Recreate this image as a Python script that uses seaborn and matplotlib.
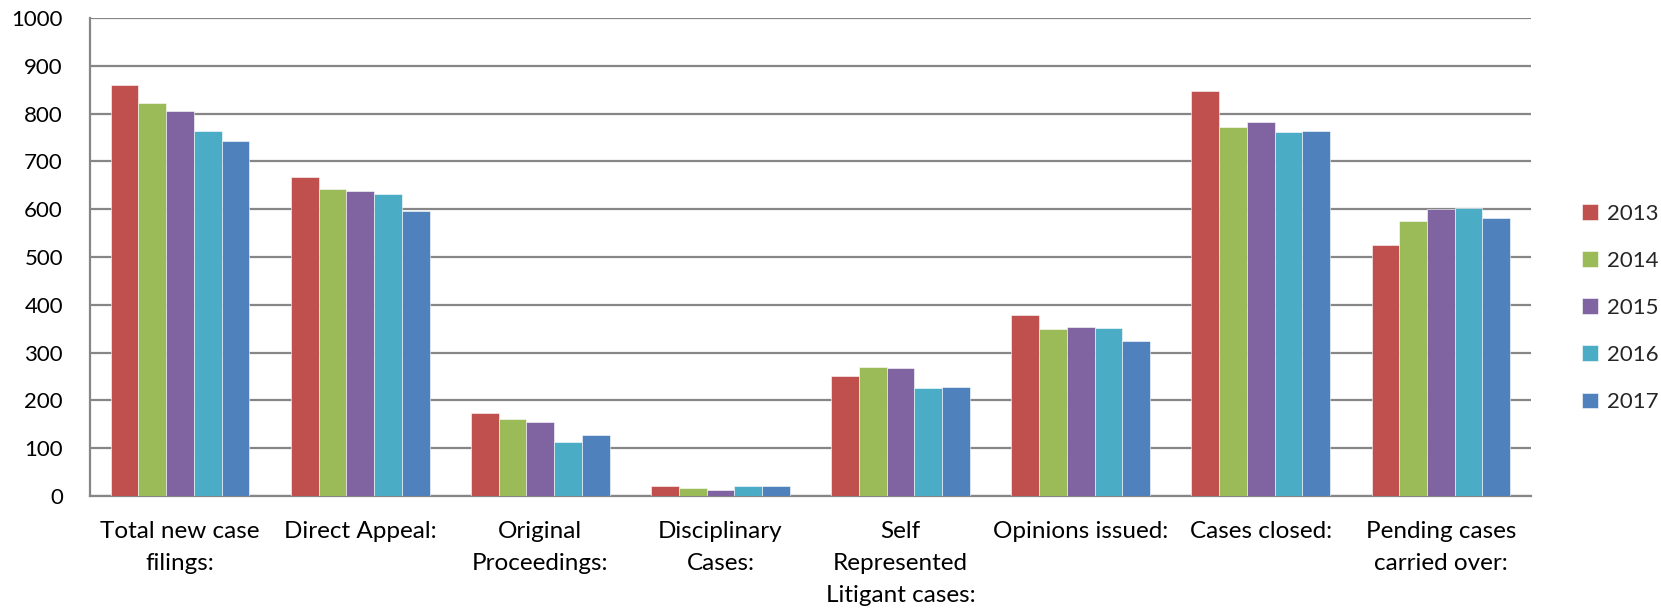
import pandas as pd
import seaborn as sns
import matplotlib.pyplot as plt

# =========================
# Data
# =========================
categories = [
    "Total new case\nfilings:",
    "Direct Appeal:",
    "Original\nProceedings:",
    "Disciplinary\nCases:",
    "Self\nRepresented\nLitigant cases:",
    "Opinions issued:",
    "Cases closed:",
    "Pending cases\ncarried over:",
]
years = ["2013", "2014", "2015", "2016", "2017"]

v2013 = [860, 667, 174, 20, 252, 379, 847, 526]
v2014 = [822, 642, 162, 16, 270, 349, 772, 575]
v2015 = [806, 638, 154, 12, 268, 353, 782, 600]
v2016 = [764, 632, 112, 21, 225, 351, 761, 602]
v2017 = [743, 596, 127, 20, 228, 324, 764, 581]

colors = ["#C0504D", "#9BBB59", "#8064A2", "#4BACC6", "#4F81BD"]

# long table for seaborn
rows = []
for year, vals in zip(years, [v2013, v2014, v2015, v2016, v2017]):
    for cat, v in zip(categories, vals):
        rows.append({"Category": cat, "Year": year, "Cases": v})
df = pd.DataFrame(rows)

# =========================
# Plot
# =========================
sns.set_theme(style="white")
plt.rcParams['font.family'] = ['Lato', 'DejaVu Sans']

fig = plt.figure(figsize=(16.61, 6.12), dpi=100)
ax = fig.add_axes([0.0542, 0.1895, 0.9217 - 0.0542, 0.9706 - 0.1895])

sns.barplot(data=df, x="Category", y="Cases", hue="Year",
            palette=colors, width=0.77, gap=0, saturation=1,
            edgecolor="white", linewidth=0.4, ax=ax, zorder=3)

ax.set_ylim(0, 1000)
ax.set_xlim(-0.5, 7.5)
ax.set_yticks(range(0, 1001, 100))
ax.yaxis.grid(True, color="#868686", linewidth=1.6, zorder=0)
ax.set_axisbelow(True)
ax.set_xlabel("")
ax.set_ylabel("")

for side in ["top", "right"]:
    ax.spines[side].set_visible(False)
for side in ["left", "bottom"]:
    ax.spines[side].set_color("#868686")
    ax.spines[side].set_linewidth(1.6)

ax.tick_params(axis="y", length=0, pad=19.5, labelsize=16, labelcolor="black")
ax.tick_params(axis="x", length=0, pad=18, labelsize=17.5, labelcolor="black")
for lbl in ax.get_xticklabels():
    lbl.set_linespacing(1.66)

leg = ax.legend(loc="center left", bbox_to_anchor=(1571 / 1661, 0.497),
                bbox_transform=fig.transFigure, frameon=False, borderpad=0,
                fontsize=16, handlelength=0.7, handleheight=0.7,
                handletextpad=0.4, labelspacing=1.22)

fig.savefig("out.png", dpi=100)
